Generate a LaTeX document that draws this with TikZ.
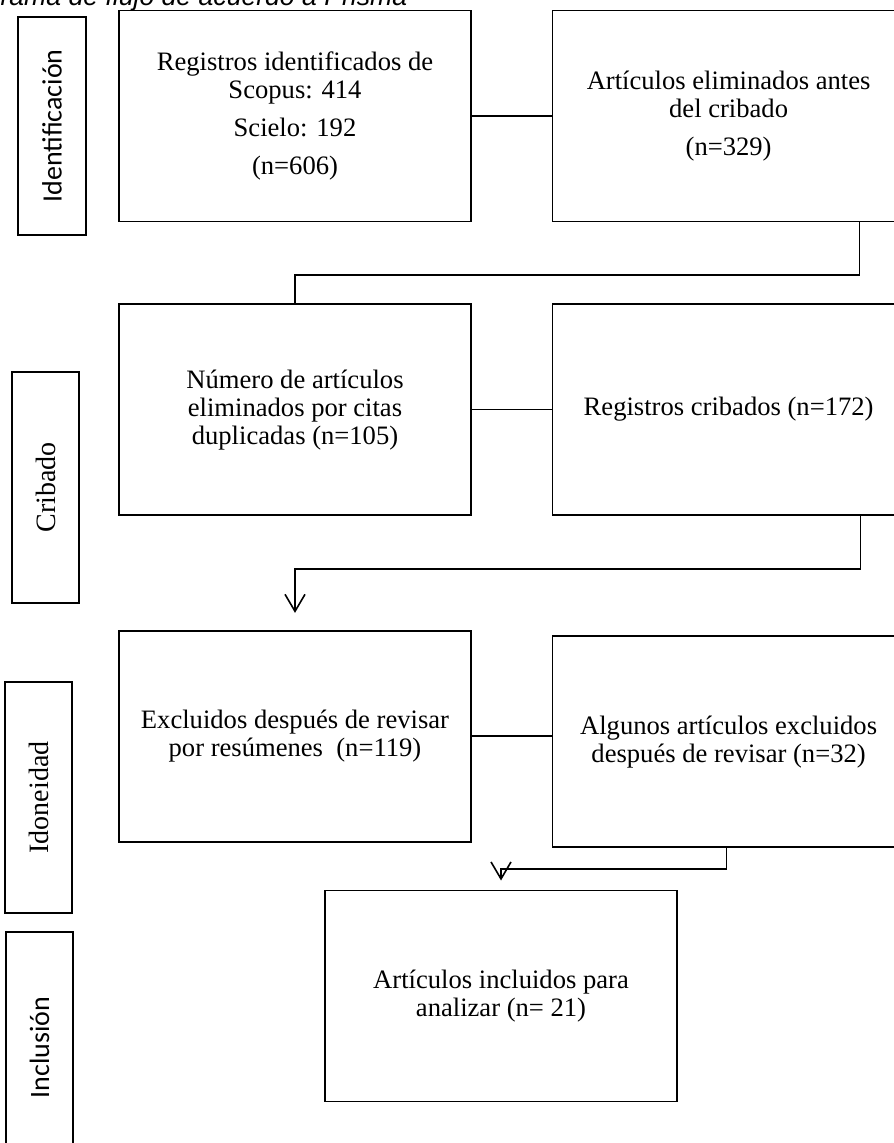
\documentclass[tikz,border=0pt]{standalone}
\usepackage{fontspec}
\setmainfont{Liberation Serif}
\newfontfamily\calibri{Carlito}
\newfontfamily\arialfont{Liberation Sans}
\usetikzlibrary{arrows.meta, positioning}

\begin{document}
\begin{tikzpicture}[
    x=0.5pt, y=-0.5pt,
    node distance=40pt,
    box/.style={
        rectangle, draw, line width=0.8pt,
        minimum width=176pt, minimum height=105.5pt, align=center,
        font=\fontsize{13.3}{14}\selectfont
    },
    stage/.style={
        rectangle, draw, line width=0.8pt, rotate=90,
        minimum height=33.5pt, font=\fontsize{14}{16}\selectfont
    },
    >={Straight Barb[length=8.5pt, width=10pt]},
    every path/.style={line width=0.8pt}
]
\useasboundingbox (0,0) rectangle (893,1143);

\node[anchor=base east, inner sep=0pt, font=\arialfont\itshape\fontsize{13.3}{14}\selectfont] (title) at (408,6) {Diagrama de flujo de acuerdo a Prisma};

% fases
\node[stage, minimum width=109pt, minimum height=34pt, font=\calibri\fontsize{14}{16}\selectfont] (identlab) at (52,126) {Identificación};
\node[stage, minimum width=115.5pt] (cribadolab) at (45.5,487.5) {Cribado};
\node[stage, minimum width=115.5pt] (idonlab) at (38.5,797.5) {Idoneidad};
\node[stage, minimum width=115.5pt, font=\calibri\fontsize{14}{16}\selectfont] (incluslab) at (39.5,1047.5) {Inclusión};

% cajas
\node[box] (registros) at (295,116) {Registros identificados de\\Scopus: 414\\[5pt]Scielo: 192\\[5pt](n=606)};
\node[box, right=40pt of registros] (antes) {Artículos eliminados antes\\del cribado\\[5pt](n=329)};
\node[box, below=40.5pt of registros] (duplicados) {Número de artículos\\eliminados por citas\\duplicadas (n=105)};
\node[box, right=40pt of duplicados] (cribados) {Registros cribados (n=172)};
\node[box, below=57pt of duplicados] (resumenes) {Excluidos después de revisar\\por resúmenes~ (n=119)};
\node[box, right=40pt of resumenes, yshift=-2.75pt] (algunos) {Algunos artículos excluidos\\después de revisar (n=32)};
\node[box, below=23.5pt of resumenes, xshift=103pt] (incluidos) {Artículos incluidos para\\analizar (n= 21)};

\draw (registros) -- (antes);
\draw (duplicados) -- (cribados);
\draw (resumenes.east) -- (resumenes.east -| algunos.west);
\draw ([xshift=65.5pt]antes.south) -- ++(0pt,-26.5pt) -| (duplicados.north);
\draw[->] ([xshift=66pt]cribados.south) -- ++(0pt,-26.5pt) -| ([yshift=8.5pt]resumenes.north);
\draw[->] ([xshift=-1pt]algunos.south) -- ++(0pt,-10.5pt) -| ([yshift=4.5pt]incluidos.north);

\end{tikzpicture}
\end{document}
